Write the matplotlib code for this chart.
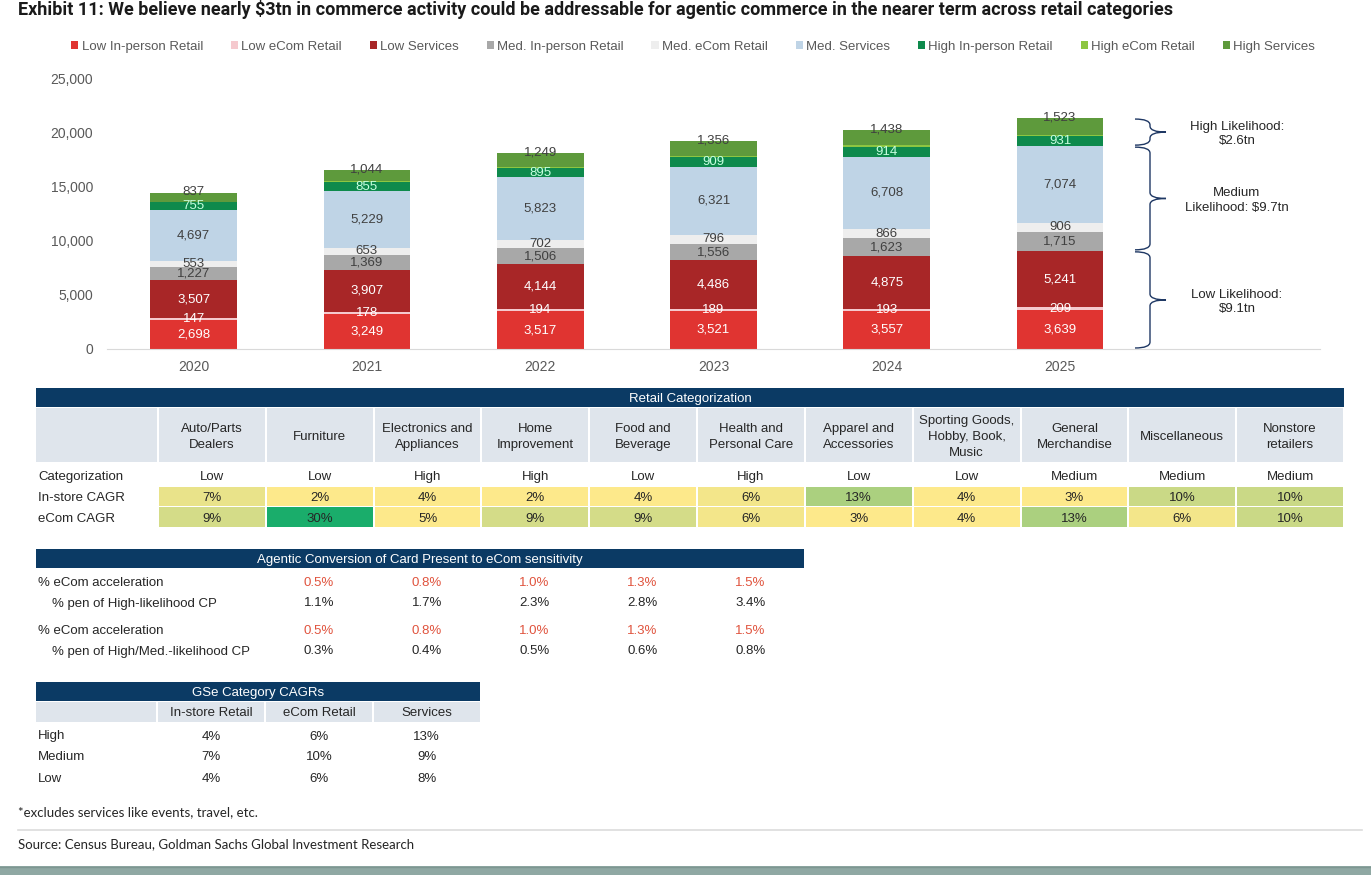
import matplotlib
matplotlib.use('Agg')
import matplotlib.pyplot as plt
import numpy as np
from matplotlib.patches import Rectangle, PathPatch
from matplotlib.path import Path
from matplotlib.colors import LinearSegmentedColormap, Normalize

plt.rcParams['font.family'] = ['Liberation Sans', 'DejaVu Sans']

# ---------------- data ----------------
years = ['2020', '2021', '2022', '2023', '2024', '2025']
low_inperson = [2698, 3249, 3517, 3521, 3557, 3639]
low_ecom = [147, 178, 194, 189, 193, 209]
low_services = [3507, 3907, 4144, 4486, 4875, 5241]
med_inperson = [1227, 1369, 1506, 1556, 1623, 1715]
med_ecom = [553, 653, 702, 796, 866, 906]
med_services = [4697, 5229, 5823, 6321, 6708, 7074]
high_inperson = [755, 855, 895, 909, 914, 931]
high_ecom = [60, 95, 110, 120, 135, 146]          # thin, unlabeled segments (estimated)
high_services = [837, 1044, 1249, 1356, 1438, 1523]

series_names = ['Low In-person Retail', 'Low eCom Retail', 'Low Services',
                'Med. In-person Retail', 'Med. eCom Retail', 'Med. Services',
                'High In-person Retail', 'High eCom Retail', 'High Services']
series_values = [low_inperson, low_ecom, low_services, med_inperson, med_ecom,
                 med_services, high_inperson, high_ecom, high_services]

title = ('Exhibit 11: We believe nearly \\$3tn in commerce activity could be addressable '
         'for agentic commerce in the nearer term across retail categories')

categories = ['Auto/Parts\nDealers', 'Furniture', 'Electronics and\nAppliances', 'Home\nImprovement',
              'Food and\nBeverage', 'Health and\nPersonal Care', 'Apparel and\nAccessories',
              'Sporting Goods,\nHobby, Book,\nMusic', 'General\nMerchandise', 'Miscellaneous',
              'Nonstore\nretailers']
categorization = ['Low', 'Low', 'High', 'High', 'Low', 'High', 'Low', 'Low', 'Medium', 'Medium', 'Medium']
instore_cagr = [7, 2, 4, 2, 4, 6, 13, 4, 3, 10, 10]
ecom_cagr = [9, 30, 5, 9, 9, 6, 3, 4, 13, 6, 10]

ecom_accel = [0.5, 0.8, 1.0, 1.3, 1.5]
pen_high = [1.1, 1.7, 2.3, 2.8, 3.4]
pen_highmed = [0.3, 0.4, 0.5, 0.6, 0.8]

gse_cols = ['In-store Retail', 'eCom Retail', 'Services']
gse_rows = ['High', 'Medium', 'Low']
gse_vals = [[4, 6, 13], [7, 10, 9], [4, 6, 8]]

# ---------------- styles ----------------
series_colors = ['#e03431', '#f5c9ce', '#a82627', '#a8a8a8', '#eeeeee', '#bfd4e6',
                 '#0e8a4c', '#8dc641', '#5e9a3c']
label_colors = ['white', 'white', 'white', '#404040', '#404040', '#404040',
                '#c8ffe0', None, '#404040']
navy = '#0b3a64'
hdr_bg = '#dfe5ec'
txt = '#262626'
grey_txt = '#595959'
red_txt = '#e0533d'

W, H = 1371, 875
fig = plt.figure(figsize=(W / 100, H / 100), dpi=100)
fig.patch.set_facecolor('white')

# overlay axes in pixel coordinates (for tables / annotations)
ov = fig.add_axes([0, 0, 1, 1], zorder=-1)
ov.set_xlim(0, W)
ov.set_ylim(H, 0)
ov.axis('off')

# ---------------- bar chart ----------------
ax = fig.add_axes([107 / W, (H - 349) / H, (1320 - 107) / W, 270 / H])
ax.patch.set_visible(False)
x = np.arange(len(years))
bottom = np.zeros(len(years))
handles = []
for name, vals, col, lc in zip(series_names, series_values, series_colors, label_colors):
    vals = np.array(vals, dtype=float)
    bars = ax.bar(x, vals, 0.5, bottom=bottom, color=col, label=name, linewidth=0)
    handles.append(bars)
    if lc is not None:
        labels = [f'{int(v):,}' for v in vals]
        if name == 'High Services':
            ax.bar_label(bars, labels=labels, label_type='edge', padding=-4,
                         color=lc, fontsize=9.5)
        else:
            ax.bar_label(bars, labels=labels, label_type='center', color=lc, fontsize=9.5)
    bottom += vals

ax.set_xlim(-0.5, 6.5)
ax.set_ylim(0, 25000)
ax.set_yticks(np.arange(0, 25001, 5000))
ax.set_yticklabels([f'{v:,}' for v in range(0, 25001, 5000)])
ax.set_xticks(x)
ax.set_xticklabels(years)
ax.tick_params(axis='y', length=0, pad=10, labelsize=10, labelcolor=grey_txt)
ax.tick_params(axis='x', length=0, pad=8, labelsize=10, labelcolor=grey_txt)
for s in ['top', 'right', 'left']:
    ax.spines[s].set_visible(False)
ax.spines['bottom'].set_color('#d9d9d9')

fig.legend(handles, series_names, loc='center', bbox_to_anchor=(693 / W, 1 - 47 / H),
           ncol=9, frameon=False, fontsize=9.5, handlelength=0.55, handleheight=0.55,
           handletextpad=0.25, columnspacing=2.1, labelcolor=grey_txt)

# ---------------- braces ----------------
last = len(years) - 1
low_tot = low_inperson[last] + low_ecom[last] + low_services[last]
med_tot = med_inperson[last] + med_ecom[last] + med_services[last]
high_tot = high_inperson[last] + high_ecom[last] + high_services[last]
to_ov = ov.transData.inverted()


def ypix(v):
    return to_ov.transform(ax.transData.transform((0, v)))[1]


def brace(y_top, y_bot, xl=1135, xm=1150, xt=1166, r=6):
    ym = (y_top + y_bot) / 2
    verts = [(xl, y_top), (xm, y_top), (xm, y_top + r), (xm, y_top + r),
             (xm, ym - r), (xm, ym - r), (xm, ym), (xt, ym),
             (xm, ym), (xm, ym + r), (xm, ym + r),
             (xm, y_bot - r), (xm, y_bot - r), (xm, y_bot), (xl, y_bot)]
    codes = [Path.MOVETO, Path.CURVE3, Path.CURVE3, Path.LINETO,
             Path.LINETO, Path.LINETO, Path.CURVE3, Path.CURVE3,
             Path.CURVE3, Path.CURVE3, Path.LINETO,
             Path.LINETO, Path.LINETO, Path.CURVE3, Path.CURVE3]
    ov.add_patch(PathPatch(Path(verts, codes), fill=False, edgecolor='#1f3864', lw=1.0))
    return ym


groups = [(high_tot + med_tot + low_tot, med_tot + low_tot, f'High Likelihood:\n\\${high_tot/1000:.1f}tn'),
          (med_tot + low_tot, low_tot, f'Medium\nLikelihood: \\${med_tot/1000:.1f}tn'),
          (low_tot, 0, f'Low Likelihood:\n\\${low_tot/1000:.1f}tn')]
for top, bot, lab in groups:
    ym = brace(ypix(top) + 1, ypix(bot) - 1)
    ov.text(1237, ym + 2, lab, ha='center', va='center', fontsize=9.5, color=txt, linespacing=1.3)

# ---------------- title ----------------
t = ov.text(18, 15, title, ha='left', va='baseline', fontsize=14, fontweight='bold',
            color='#1a1a1a', family=['Roboto', 'DejaVu Sans'])
rend = fig.canvas.get_renderer()
wt = t.get_window_extent(rend).width
t.set_fontsize(14 * 1157 / wt)

# ---------------- table 1: Retail Categorization ----------------
fs = 9.5
dy = 1.5
t1_l, t1_r, c0_r = 36, 1344, 158
colw = (t1_r - c0_r) / len(categories)
ov.add_patch(Rectangle((t1_l, 388), t1_r - t1_l, 18.5, color=navy, lw=0))
ov.text((t1_l + t1_r) / 2, 397.5 + dy, 'Retail Categorization', color='white', ha='center',
        va='center', fontsize=fs)
ov.add_patch(Rectangle((t1_l, 408), c0_r - t1_l - 1, 54, color=hdr_bg, lw=0))
cmap = LinearSegmentedColormap.from_list(
    'cagr', [(0, '#fde98b'), (3 / 28, '#fde98b'), (7 / 28, '#d4dc88'),
             (11 / 28, '#abd07f'), (1, '#1aad6b')])
norm = Normalize(2, 30)
for i, cat in enumerate(categories):
    x0 = c0_r + i * colw
    xc = x0 + colw / 2
    ov.add_patch(Rectangle((x0 + 1, 408), colw - 2, 54, color=hdr_bg, lw=0))
    ov.text(xc, 435.5 + dy, cat, ha='center', va='center', fontsize=fs, color=txt, linespacing=1.42)
    ov.text(xc, 475.5 + dy, categorization[i], ha='center', va='center', fontsize=fs, color=txt)
    ov.add_patch(Rectangle((x0 + 1, 486.5), colw - 2, 19.5, color=cmap(norm(instore_cagr[i])), lw=0))
    ov.text(xc, 496.5 + dy, f'{instore_cagr[i]}%', ha='center', va='center', fontsize=fs, color=txt)
    ov.add_patch(Rectangle((x0 + 1, 507), colw - 2, 19.5, color=cmap(norm(ecom_cagr[i])), lw=0))
    ov.text(xc, 517 + dy, f'{ecom_cagr[i]}%', ha='center', va='center', fontsize=fs, color=txt)
for lab, yy in [('Categorization', 475.5), ('In-store CAGR', 496.5), ('eCom CAGR', 517)]:
    ov.text(38, yy + dy, lab, ha='left', va='center', fontsize=fs, color=txt)

# ---------------- table 2: sensitivity ----------------
ov.add_patch(Rectangle((36, 549), 768, 19, color=navy, lw=0))
ov.text(420, 559 + dy, 'Agentic Conversion of Card Present to eCom sensitivity', color='white',
        ha='center', va='center', fontsize=fs)
rows2 = [('% eCom acceleration', 38, 581, ecom_accel, red_txt),
         ('% pen of High-likelihood CP', 52, 602, pen_high, txt),
         ('% eCom acceleration', 38, 629, ecom_accel, red_txt),
         ('% pen of High/Med.-likelihood CP', 52, 650, pen_highmed, txt)]
for lab, xl, yy, vals, c in rows2:
    ov.text(xl, yy + dy, lab, ha='left', va='center', fontsize=fs, color=txt)
    for j, v in enumerate(vals):
        ov.text(319 + j * 107.8, yy + dy, f'{v:.1f}%', ha='center', va='center', fontsize=fs, color=c)

# ---------------- table 3: GSe Category CAGRs ----------------
ov.add_patch(Rectangle((36, 682), 444, 19, color=navy, lw=0))
ov.text(258, 691.5 + dy, 'GSe Category CAGRs', color='white', ha='center', va='center', fontsize=fs)
ov.add_patch(Rectangle((36, 702), 157 - 36 - 1, 20, color=hdr_bg, lw=0))
g_edges = [157, 265, 373, 480]
for j, cname in enumerate(gse_cols):
    x0, x1 = g_edges[j], g_edges[j + 1]
    ov.add_patch(Rectangle((x0 + 1, 702), x1 - x0 - 2 if j < 2 else x1 - x0 - 1, 20,
                           color=hdr_bg, lw=0))
    ov.text((x0 + x1) / 2, 712 + dy, cname, ha='center', va='center', fontsize=fs, color=txt)
for i, rname in enumerate(gse_rows):
    yy = 735 + i * 21 + dy
    ov.text(38, yy, rname, ha='left', va='center', fontsize=fs, color=txt)
    for j in range(3):
        ov.text((g_edges[j] + g_edges[j + 1]) / 2, yy, f'{gse_vals[i][j]}%', ha='center',
                va='center', fontsize=fs, color=txt)

# ---------------- footer ----------------
ov.text(18, 812, '*excludes services like events, travel, etc.', ha='left', va='center',
        fontsize=9.5, color=txt, family=['Lato', 'DejaVu Sans'])
ov.plot([18, 1362], [830, 830], color='#dcdcdc', lw=1.2)
ov.text(18, 844, 'Source: Census Bureau, Goldman Sachs Global Investment Research', ha='left',
        va='center', fontsize=9.5, color=txt, family=['Lato', 'DejaVu Sans'])
ov.add_patch(Rectangle((0, 866), W, 9, color='#8fa8a3', lw=0))
ov.plot([0, W], [866.5, 866.5], color='#7e9691', lw=1)

fig.savefig('out.png', dpi=100, facecolor='white')
